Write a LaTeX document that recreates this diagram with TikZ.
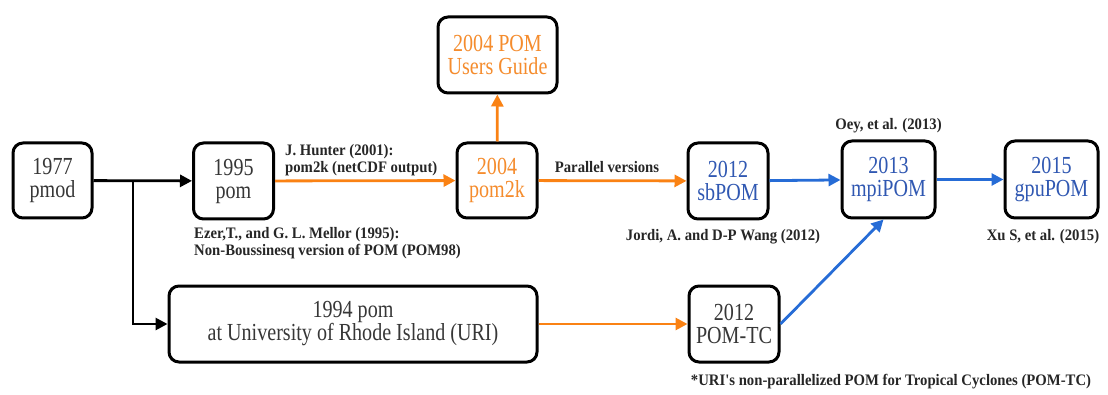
\documentclass[tikz,border=0pt]{standalone}
\usepackage{fontspec}
\setmainfont{Liberation Serif}
\newfontfamily\boxfont[FakeStretch=0.82]{Liberation Serif}
\newfontfamily\notefont[FakeStretch=0.92]{Liberation Serif}
\usetikzlibrary{arrows.meta, positioning}
\definecolor{pomorange}{RGB}{250, 130, 20}
\definecolor{pomtext}{RGB}{245, 140, 45}
\definecolor{pomblue}{RGB}{38, 108, 214}
\definecolor{pomblutext}{RGB}{48, 88, 178}
\definecolor{pomgray}{RGB}{55, 55, 55}

\begin{document}
\begin{tikzpicture}[x=1pt, y=1pt,
    ver/.style={draw=black, line width=3pt, rounded corners=10pt, fill=white,
      align=center, inner sep=0pt, text=pomgray,
      font=\boxfont\fontsize{24.5}{23}\selectfont},
    note/.style={align=left, inner sep=0pt, text=black!85,
      font=\notefont\bfseries\fontsize{16}{16.5}\selectfont},
    blk/.style={draw=black, line width=2.8pt, -{Triangle[length=12pt,width=12pt]}},
    org/.style={draw=pomorange, line width=2.8pt, -{Triangle[length=12pt,width=12pt]}},
    blu/.style={draw=pomblue, line width=2.8pt, -{Triangle[length=12pt,width=12pt]}}]
  \useasboundingbox (0,0) rectangle (1108,394);

  % version boxes
  \node[ver, minimum width=79pt, minimum height=75pt] (pmod) at (52.5,213.5) {1977\\pmod};
  \node[ver, minimum width=80pt, minimum height=76pt] (pom) at (233.5,213) {1995\\pom};
  \node[ver, minimum width=80pt, minimum height=75pt, text=pomtext] (pomtwok) at (497,213.5) {2004\\pom2k};
  \node[ver, minimum width=119pt, minimum height=76pt, text=pomtext] (guide) at (497.5,339) {2004 POM\\Users Guide};
  \node[ver, minimum width=80pt, minimum height=76pt, text=pomblutext] (sbpom) at (728,213) {2012\\sbPOM};
  \node[ver, minimum width=93pt, minimum height=77pt, text=pomblutext] (mpipom) at (888.5,214.5) {2013\\mpiPOM};
  \node[ver, minimum width=93pt, minimum height=77pt, text=pomblutext] (gpupom) at (1051.5,214.5) {2015\\gpuPOM};
  \node[ver, minimum width=368pt, minimum height=76pt] (uri) at (353,70) {1994 pom\\at University of Rhode Island (URI)};
  \node[ver, minimum width=90pt, minimum height=76pt] (pomtc) at (734,70) {2012\\POM-TC};

  % references
  \node[note, anchor=west] (hunter) at (285,234) {J. Hunter (2001):\\pom2k (netCDF output)};
  \node[note, anchor=west] (ezer) at (194,151) {Ezer,T., and G. L. Mellor (1995):\\Non-Boussinesq version of POM (POM98)};
  \node[note] (parallel) at (607,227) {Parallel versions};
  \node[note] (jordi) at (723,157) {Jordi, A. and D-P Wang (2012)};
  \node[note, above=6pt of mpipom] (oey) {Oey, et al. (2013)};
  \node[note] (xu) at (1043,157) {Xu S, et al. (2015)};
  \node[note] (urinote) at (891,12) {*URI's non-parallelized POM for Tropical Cyclones (POM-TC)};

  % links
  \coordinate (split) at (133,213.5);
  \draw[blk] (pmod) -- (pom);
  \draw[blk] (split) |- (uri.west);
  \draw[org] (pom) -- (pomtwok);
  \draw[org] (pomtwok) -- (guide);
  \draw[org] (pomtwok) -- (sbpom);
  \draw[org] (uri) -- (pomtc);
  \draw[blu] (sbpom) -- (mpipom);
  \draw[blu] (mpipom) -- (gpupom);
  \draw[blu] (pomtc.east) -- ([xshift=-5pt]mpipom.south);
\end{tikzpicture}
\end{document}
